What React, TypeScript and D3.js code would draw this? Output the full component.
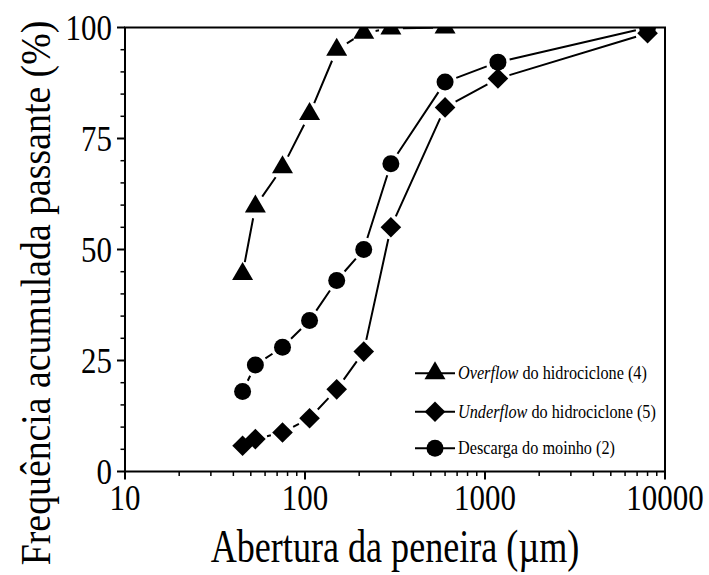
import React from "react"
import * as d3 from "d3"

// sieve openings (µm) and cumulative passing (%)
const sizes = [45, 53, 75, 106, 150, 212, 300, 600, 1180, 8000]
const overflow = [44.5, 59.7, 68.5, 80.5, 95, 98.8, 99.8, 100]
const underflow = [5.8, 7.3, 8.8, 12, 18.5, 27, 55, 82, 88.5, 98.7]
const descarga = [18, 24, 28, 34, 43, 50, 69.3, 87.7, 92.2, 100]

const xTicks = [10, 100, 1000, 10000]
const yTicks = [0, 25, 50, 75, 100]

const W = 709
const H = 575
const left = 125
const right = 665
const top = 27.5
const bottom = 471.5
const FONT = "'Liberation Serif', 'Times New Roman', serif"
const tf = { fontFamily: FONT }

const x = d3.scaleLog().domain([10, 10000]).range([left, right])
const y = d3.scaleLinear().domain([0, 100]).range([bottom, top])

type Shape = "triangle" | "diamond" | "circle"

function Marker({ shape, cx, cy }: { shape: Shape; cx: number; cy: number }) {
    if (shape === "circle") return <circle cx={cx} cy={cy} r={8.5} fill="#000" />
    if (shape === "diamond") {
        const r = 10.3
        return <path d={`M${cx},${cy - r}L${cx + r},${cy}L${cx},${cy + r}L${cx - r},${cy}Z`} fill="#000" />
    }
    const w = 10.5
    const h = 18
    return (
        <path
            d={`M${cx},${cy - (2 * h) / 3}L${cx + w},${cy + h / 3}L${cx - w},${cy + h / 3}Z`}
            fill="#000"
        />
    )
}

// line broken around the symbols, like the original plot
function Series({ values, shape }: { values: number[]; shape: Shape }) {
    const pts = values.map((v, i) => [x(sizes[i]), y(v)] as [number, number])
    const gap = 12
    const segs: string[] = []
    for (let i = 1; i < pts.length; i++) {
        const [x1, y1] = pts[i - 1]
        const [x2, y2] = pts[i]
        const len = Math.hypot(x2 - x1, y2 - y1)
        if (len <= 2 * gap + 1) continue
        const ux = (x2 - x1) / len
        const uy = (y2 - y1) / len
        segs.push(
            `M${x1 + ux * gap},${y1 + uy * gap}L${x2 - ux * gap},${y2 - uy * gap}`,
        )
    }
    return (
        <g>
            <path d={segs.join("")} stroke="#000" strokeWidth={2} fill="none" />
            {pts.map((p, i) => (
                <Marker key={i} shape={shape} cx={p[0]} cy={p[1]} />
            ))}
        </g>
    )
}

const legendShapes: Shape[] = ["triangle", "diamond", "circle"]
const legendItalic = ["Overflow", "Underflow", ""]
const legendRest = [" do hidrociclone (4)", " do hidrociclone (5)", "Descarga do moinho (2)"]
const legendY = [373.3, 411.7, 448.3]

export default function App() {
    const minor: number[] = []
    for (let d = 10; d < 10000; d *= 10) {
        for (let k = 2; k <= 9; k++) minor.push(d * k)
    }
    const yMinor = d3.range(0, 101, 5).filter((v) => v % 25 !== 0)

    return (
        <svg
            width={W}
            height={H}
            style={{ position: "absolute", left: 0, top: 0, background: "#fff" }}
        >
            <defs>
                <clipPath id="plot">
                    <rect x={left} y={top} width={right - left} height={bottom - top} />
                </clipPath>
            </defs>
            <rect width={W} height={H} fill="#fff" />

            <g clipPath="url(#plot)">
                <Series values={overflow} shape="triangle" />
                <Series values={descarga} shape="circle" />
                <Series values={underflow} shape="diamond" />
            </g>

            {/* frame */}
            <rect x={left} y={top} width={right - left} height={bottom - top} fill="none" stroke="#000" strokeWidth={2} />

            {/* x ticks */}
            {minor.map((v) => (
                <line key={v} x1={x(v)} x2={x(v)} y1={bottom} y2={bottom + 4.5} stroke="#000" strokeWidth={1.5} />
            ))}
            {xTicks.map((v) => (
                <g key={v}>
                    <line x1={x(v)} x2={x(v)} y1={bottom} y2={bottom + 8} stroke="#000" strokeWidth={2} />
                    <text style={tf} transform={`translate(${x(v)},510) scale(0.86,1)`} textAnchor="middle" fontSize={36}>
                        {v}
                    </text>
                </g>
            ))}

            {/* y ticks */}
            {yMinor.map((v) => (
                <line key={v} x1={left - 4.5} x2={left} y1={y(v)} y2={y(v)} stroke="#000" strokeWidth={1.5} />
            ))}
            {yTicks.map((v) => (
                <g key={v}>
                    <line x1={left - 8} x2={left} y1={y(v)} y2={y(v)} stroke="#000" strokeWidth={2} />
                    <text style={tf} transform={`translate(112,${y(v) + 12}) scale(0.86,1)`} textAnchor="end" fontSize={36}>
                        {v}
                    </text>
                </g>
            ))}

            {/* axis titles */}
            <text style={tf} transform="translate(395,562) scale(0.785,1)" textAnchor="middle" fontSize={46}>
                Abertura da peneira (µm)
            </text>
            <text style={tf} transform="translate(50,293) rotate(-90) scale(0.9,1)" textAnchor="middle" fontSize={42}>
                Frequência acumulada passante (%)
            </text>

            {/* legend */}
            {legendShapes.map((s, i) => (
                <g key={i}>
                    <line x1={415} x2={455} y1={legendY[i]} y2={legendY[i]} stroke="#000" strokeWidth={2} />
                    <Marker shape={s} cx={435} cy={legendY[i]} />
                    <text style={tf} transform={`translate(458,${legendY[i] + 6}) scale(0.855,1)`} fontSize={19}>
                        {legendItalic[i] && <tspan fontStyle="italic">{legendItalic[i]}</tspan>}
                        {legendRest[i]}
                    </text>
                </g>
            ))}
        </svg>
    )
}
